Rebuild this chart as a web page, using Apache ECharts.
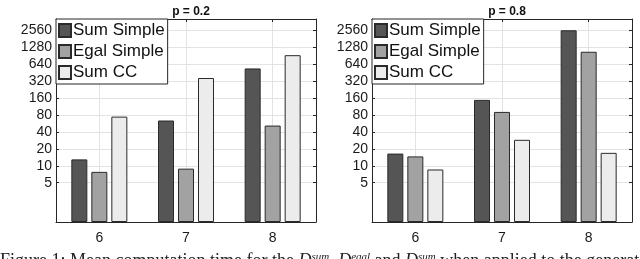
<!DOCTYPE html>
<html>
<head>
<meta charset="utf-8">
<script src="https://cdn.jsdelivr.net/npm/echarts@6/dist/echarts.min.js"></script>
<style>html,body{margin:0;padding:0;background:#fff}#c{width:640px;height:259px}</style>
</head>
<body>
<div id="c"></div>
<script>
const categories = ['6', '7', '8'];
const yTicks = [5, 10, 20, 40, 80, 160, 320, 640, 1280, 2560];
const seriesNames = ['Sum Simple', 'Egal Simple', 'Sum CC'];
const p02SumSimple = [13, 64, 540];
const p02EgalSimple = [7.8, 8.9, 52];
const p02SumCC = [75, 365, 930];
const p08SumSimple = [16.5, 149, 2580];
const p08EgalSimple = [14.7, 91, 1070];
const p08SumCC = [8.6, 29, 17];
const panelTitles = ['p = 0.2', 'p = 0.8'];

const fills = ['#555555', '#a2a2a2', '#ececec'];
const axisColor = '#262626';
const gridColor = '#e3e3e3';

const grids = [
  {left: 56, right: 324, top: 19, bottom: 37},
  {left: 372, right: 8, top: 19, bottom: 37}
];

const xAxes = [], yAxes = [], series = [], legends = [], titles = [];
const panelData = [[p02SumSimple, p02EgalSimple, p02SumCC], [p08SumSimple, p08EgalSimple, p08SumCC]];

grids.forEach((g, gi) => {
  xAxes.push({
    type: 'category', gridIndex: gi, data: categories,
    axisLine: {show: true, lineStyle: {color: axisColor}},
    axisTick: {show: true, inside: true, length: 3, alignWithLabel: true, lineStyle: {color: axisColor}},
    axisLabel: {color: '#1a1a1a', fontSize: 14, fontFamily: 'Liberation Sans, Arial', margin: 9},
    splitLine: {show: true, alignWithLabel: true, lineStyle: {color: gridColor}}
  });
  xAxes.push({
    type: 'category', gridIndex: gi, data: categories, position: 'top',
    axisLine: {show: true, lineStyle: {color: axisColor}},
    axisTick: {show: true, inside: true, length: 3, alignWithLabel: true, lineStyle: {color: axisColor}},
    axisLabel: {show: false}, splitLine: {show: false}
  });
  yAxes.push({
    type: 'log', logBase: 2, min: 1, max: 4096, gridIndex: gi,
    axisLine: {show: true, lineStyle: {color: axisColor}},
    axisTick: {show: true, inside: true, length: 3, customValues: yTicks, lineStyle: {color: axisColor}},
    axisLabel: {customValues: yTicks, color: '#1a1a1a', fontSize: 14, fontFamily: 'Liberation Sans, Arial', margin: 4,
      formatter: v => String(Math.round(v))},
    splitLine: {show: true, customValues: yTicks, lineStyle: {color: gridColor}}
  });
  yAxes.push({
    type: 'log', logBase: 2, min: 1, max: 4096, gridIndex: gi, position: 'right',
    axisLine: {show: true, lineStyle: {color: axisColor}},
    axisTick: {show: true, inside: true, length: 3, customValues: yTicks, lineStyle: {color: axisColor}},
    axisLabel: {show: false}, splitLine: {show: false}
  });
  panelData[gi].forEach((arr, si) => {
    series.push({
      type: 'bar', name: seriesNames[si], data: arr,
      xAxisIndex: gi * 2, yAxisIndex: gi * 2,
      barWidth: 16, barGap: '25%',
      itemStyle: {color: fills[si], borderColor: '#2a2a2a', borderWidth: 1},
      emphasis: {disabled: true}, animation: false
    });
  });
  legends.push({
    left: g.left, top: g.top, orient: 'vertical',
    data: seriesNames, icon: 'rect', itemWidth: 12, itemHeight: 13, itemGap: 4,
    padding: [3, 3, 3, 2],
    backgroundColor: '#ffffff', borderColor: axisColor, borderWidth: 1, borderRadius: 0,
    textStyle: {fontSize: 17, lineHeight: 17, color: '#111', fontFamily: 'Liberation Sans, Arial', padding: [0, 0, 0, -3]},
    selectedMode: false
  });
  const cx = g.left + (640 - g.left - g.right) / 2;
  titles.push({
    text: panelTitles[gi], left: cx, top: 1, textAlign: 'center',
    textStyle: {fontSize: 12, fontWeight: 'bold', color: '#111', fontFamily: 'Liberation Sans, Arial'}
  });
});

const chart = echarts.init(document.getElementById('c'), null, {renderer: 'canvas'});
chart.setOption({
  animation: false,
  title: titles,
  grid: grids,
  xAxis: xAxes,
  yAxis: yAxes,
  legend: legends,
  series: series,
  graphic: [{
    type: 'text', left: 0, top: 252,
    style: {
      text: '{n|Figure 1: Mean computation time for the }{i|D}{s|sum}{n|, }{i|D}{s|egal}{n| and }{i|D}{s|sum}{n| when applied to the generation}',
      rich: {
        n: {fontFamily: 'Liberation Serif, Times New Roman', fontSize: 18, fill: '#222'},
        i: {fontFamily: 'Liberation Serif, Times New Roman', fontSize: 18, fontStyle: 'italic', fill: '#222'},
        s: {fontFamily: 'Liberation Serif, Times New Roman', fontSize: 11, fontStyle: 'italic', fill: '#222', verticalAlign: 'top', padding: [0, 0, 8, 0]}
      }
    }
  }]
});
</script>
</body>
</html>
